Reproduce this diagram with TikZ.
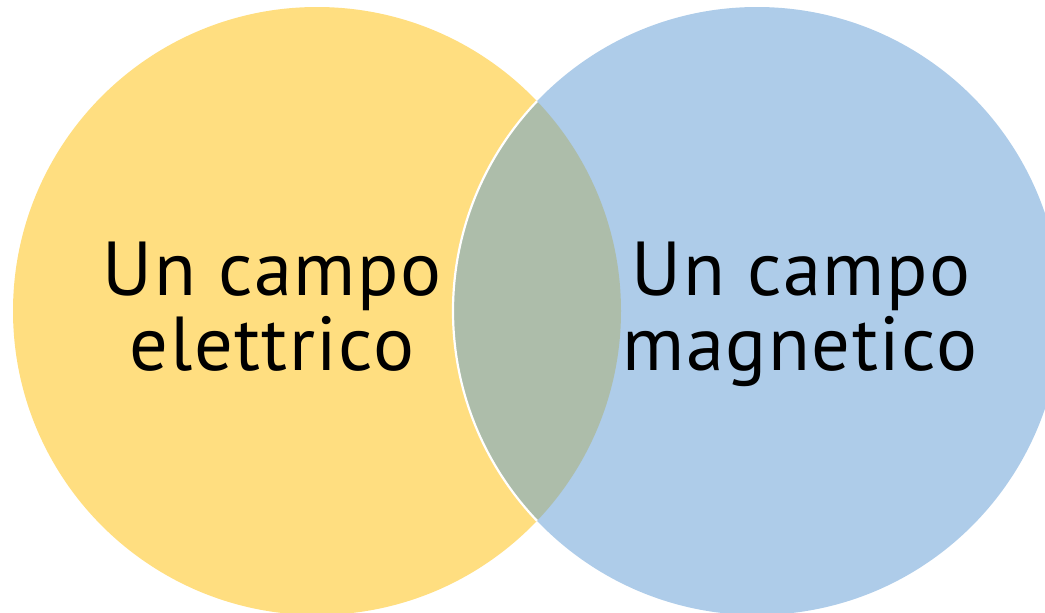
\documentclass[tikz,border=0pt]{standalone}
\usepackage{fontspec}
\setmainfont{PT Sans}[LetterSpace=2.0]
\definecolor{venny}{HTML}{FFDE80}
\definecolor{vennb}{HTML}{AECCE9}
\definecolor{venno}{HTML}{ADBDAA}
\begin{document}
\begin{tikzpicture}[x=1pt,y=-1pt,
  lbl/.style={anchor=base,inner sep=0pt,font=\fontsize{76.5}{75}\selectfont,text=black}]
\useasboundingbox (0,0) rectangle (1045,613);
\coordinate (cy) at (317,311);
\coordinate (cb) at (757,311);
\fill[venny] (cy) circle[radius=304];
\fill[vennb] (cb) circle[radius=304];
\begin{scope}
  \clip (cy) circle[radius=304];
  \fill[venno] (cb) circle[radius=304];
  \draw[white,line width=2.2pt] (cb) circle[radius=304];
\end{scope}
\node[lbl] (l1) at (272,295) {Un campo};
\node[lbl] (l2) at (272,370) {elettrico};
\node[lbl] (r1) at (801,295) {Un campo};
\node[lbl] (r2) at (800,370) {magnetico};
\end{tikzpicture}
\end{document}
